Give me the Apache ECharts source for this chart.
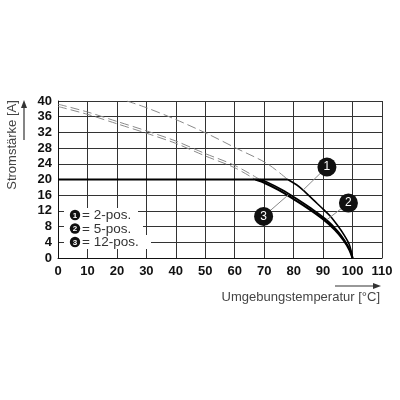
<!DOCTYPE html>
<html style="height: 100%">
<head>
<meta charset="utf-8" />
<title>Derating</title>
</head>
<body style="height: 100%; margin: 0; background: #fff">
<div id="container" style="width: 400px; height: 400px"></div>
<script type="text/javascript" src="https://cdn.jsdelivr.net/npm/echarts@6/dist/echarts.min.js"></script>
<script type="text/javascript">
// tick labels
var xTicks = [0, 10, 20, 30, 40, 50, 60, 70, 80, 90, 100, 110];
var yTicks = [0, 4, 8, 12, 16, 20, 24, 28, 32, 36, 40];

// solid part: rated current
var flatLine = [[0, 20], [78, 20]];
var curve1 = [[78, 20], [81.1, 18.6], [83.2, 17.3], [86.7, 14.8], [90.1, 12.4], [92.4, 10.7], [95, 8.2], [97, 6.0], [98.8, 3.6], [99.6, 1.6], [100, 0]];
var curve2 = [[68.5, 20], [71, 19.3], [76, 17.4], [81, 15.1], [86, 12.6], [91, 9.8], [95, 6.8], [97.5, 4.2], [99.2, 1.9], [100, 0]];
var curve3 = [[67, 20], [70, 19.2], [75, 17.3], [80, 15.0], [85, 12.6], [90, 9.9], [94, 7.2], [97, 4.5], [99, 2.0], [100, 0]];

// dashed part: above rated current
var dash1 = [[23.4, 40], [30, 38.3], [39.3, 35.5], [50.6, 31.7], [60.7, 27.9], [70.9, 24.1], [78, 20]];
var dash2 = [[0, 39.2], [10, 37.2], [20, 34.8], [30, 32.4], [40, 29.8], [50, 26.6], [60, 23.6], [68.5, 20]];
var dash3 = [[0, 38.6], [10, 36.6], [20, 34.2], [30, 31.8], [40, 29.2], [50, 26.0], [60, 23.0], [67, 20]];

// numbered callouts and where their leaders touch the curves
var calloutNames = ['1', '2', '3'];
var calloutPos = [[91.3, 23.2], [98.6, 14], [69.8, 10.6]];
var leaderEnd = [[83.2, 17.3], [91.2, 9.7], [78.2, 16.1]];
var legendText = ['= 2-pos.', '= 5-pos.', '= 12-pos.'];

var dom = document.getElementById('container');
var myChart = echarts.init(dom);

var series = [];
function solid(data, w) {
    series.push({ type: 'line', data: data, smooth: 0.3, symbol: 'none',
        lineStyle: { color: '#000', width: w }, z: 5 });
}
function dashed(data) {
    series.push({ type: 'line', data: data, smooth: 0.3, symbol: 'none',
        lineStyle: { color: '#8a8a8a', width: 1, type: [9, 4] }, z: 4 });
}
dashed(dash1); dashed(dash2); dashed(dash3);
solid(flatLine, 2.2);
solid(curve1, 1.6);
solid(curve2, 1.8);
solid(curve3, 2.2);
for (var i = 0; i < calloutPos.length; i++) {
    series.push({ type: 'line', data: [calloutPos[i], leaderEnd[i]], symbol: 'none',
        lineStyle: { color: '#888', width: 1 }, z: 6 });
}
series.push({
    type: 'scatter', z: 10, symbolSize: 19,
    itemStyle: { color: '#111', opacity: 1 },
    data: calloutPos.map(function (p, k) { return { value: p, name: calloutNames[k] }; }),
    label: { show: true, position: 'inside', formatter: '{b}', color: '#fff',
        fontSize: 12, fontFamily: 'Liberation Sans' }
});

var graphic = [];
// axis titles with arrows
graphic.push({ type: 'text', x: 12.5, y: 145, rotation: Math.PI / 2,
    style: { text: 'Stromstärke [A]', font: '13px "Liberation Sans"', fill: '#444',
        align: 'center', verticalAlign: 'middle' } });
graphic.push({ type: 'line', shape: { x1: 24, y1: 140, x2: 24, y2: 106 }, style: { stroke: '#333', lineWidth: 1.2 } });
graphic.push({ type: 'polygon', shape: { points: [[24, 100], [21, 108], [27, 108]] }, style: { fill: '#333' } });
graphic.push({ type: 'text', x: 380, y: 297,
    style: { text: 'Umgebungstemperatur [°C]', font: '13px "Liberation Sans"', fill: '#444',
        align: 'right', verticalAlign: 'middle' } });
graphic.push({ type: 'line', shape: { x1: 335, y1: 286, x2: 374, y2: 286 }, style: { stroke: '#333', lineWidth: 1.2 } });
graphic.push({ type: 'polygon', shape: { points: [[381, 286], [373, 283], [373, 289]] }, style: { fill: '#333' } });

// legend box
var rowY = [215, 228.5, 242];
var rowW = [74, 79, 87];
for (var r = 0; r < 3; r++) {
    graphic.push({ type: 'rect', z: 20, shape: { x: 64, y: rowY[r] - 7, width: rowW[r], height: 14 }, style: { fill: '#fff' } });
    graphic.push({ type: 'circle', z: 21, shape: { cx: 75, cy: rowY[r], r: 5.2 }, style: { fill: '#111' } });
    graphic.push({ type: 'text', z: 22, x: 75, y: rowY[r] + 0.5,
        style: { text: calloutNames[r], font: 'bold 8px "Liberation Sans"', fill: '#fff', align: 'center', verticalAlign: 'middle' } });
    graphic.push({ type: 'text', z: 22, x: 82, y: rowY[r] + 0.5,
        style: { text: legendText[r], font: '13.5px "Liberation Sans"', fill: '#333', align: 'left', verticalAlign: 'middle' } });
}

var option = {
    animation: false,
    grid: { left: 58, top: 101, width: 324, height: 157 },
    xAxis: {
        type: 'value', min: xTicks[0], max: xTicks[xTicks.length - 1], interval: 10,
        axisLine: { show: true, lineStyle: { color: '#111', width: 1 } },
        axisTick: { show: false },
        axisLabel: { margin: 7, color: '#111', fontSize: 13, fontWeight: 'bold', fontFamily: 'Liberation Sans' },
        splitLine: { show: true, lineStyle: { color: '#333', width: 1 } }
    },
    yAxis: {
        type: 'value', min: yTicks[0], max: yTicks[yTicks.length - 1], interval: 4,
        axisLine: { show: true, lineStyle: { color: '#111', width: 1 } },
        axisTick: { show: false },
        axisLabel: { margin: 6, color: '#111', fontSize: 13, fontWeight: 'bold', fontFamily: 'Liberation Sans' },
        splitLine: { show: true, lineStyle: { color: '#333', width: 1 } }
    },
    series: series,
    graphic: graphic
};
myChart.setOption(option);
</script>
</body>
</html>
